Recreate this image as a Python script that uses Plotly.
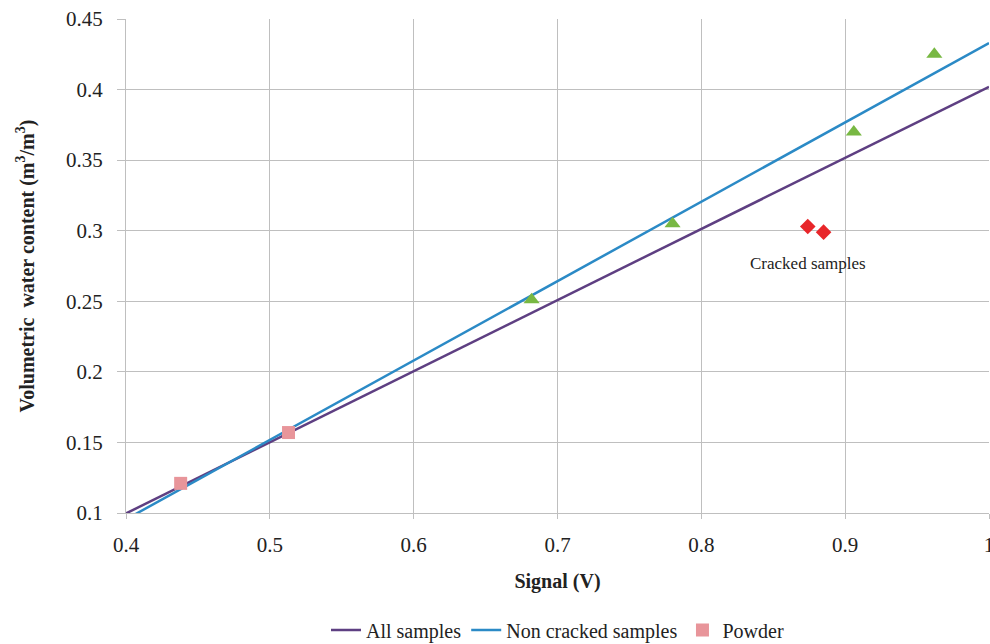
import plotly.graph_objects as go

# Data
all_x = [0.4, 1.0]
all_y = [0.0997, 0.402]
noncr_x = [0.4, 1.0]
noncr_y = [0.0955, 0.433]
powder_x = [0.438, 0.513]
powder_y = [0.121, 0.157]
noncracked_pts_x = [0.682, 0.780, 0.906, 0.962]
noncracked_pts_y = [0.251, 0.305, 0.370, 0.425]
cracked_x = [0.874, 0.885]
cracked_y = [0.303, 0.299]

x_ticks = [0.4, 0.5, 0.6, 0.7, 0.8, 0.9, 1.0]
x_labels = ["0.4", "0.5", "0.6", "0.7", "0.8", "0.9", "1"]
y_ticks = [0.1, 0.15, 0.2, 0.25, 0.3, 0.35, 0.4, 0.45]
y_labels = ["0.1", "0.15", "0.2", "0.25", "0.3", "0.35", "0.4", "0.45"]

FONT = "Times New Roman, Liberation Serif, serif"
GRID = "#BFBFBF"

fig = go.Figure()
fig.add_trace(go.Scatter(x=all_x, y=all_y, mode="lines", name="All samples",
                         line=dict(color="#5E3F82", width=2.5)))
fig.add_trace(go.Scatter(x=noncr_x, y=noncr_y, mode="lines", name="Non cracked samples",
                         line=dict(color="#2B8AC6", width=2.5)))
fig.add_trace(go.Scatter(x=powder_x, y=powder_y, mode="markers", name="Powder",
                         marker=dict(symbol="square", size=13, color="#E8959A")))
fig.add_trace(go.Scatter(x=noncracked_pts_x, y=noncracked_pts_y, mode="markers",
                         showlegend=False,
                         marker=dict(symbol="triangle-up", size=14, color="#78B843")))
fig.add_trace(go.Scatter(x=cracked_x, y=cracked_y, mode="markers", showlegend=False,
                         marker=dict(symbol="diamond", size=12, color="#E8262A")))

fig.add_annotation(x=0.874, y=0.2765, text="Cracked samples", showarrow=False,
                   font=dict(family=FONT, size=17, color="#222222"))

fig.update_layout(
    width=990, height=644,
    margin=dict(l=126, r=1, t=19, b=131, autoexpand=False),
    paper_bgcolor="white", plot_bgcolor="white",
    font=dict(family=FONT, color="#222222"),
    legend=dict(orientation="h", x=0.5, xanchor="center", y=-0.237, yanchor="middle",
                font=dict(family=FONT, size=20), itemwidth=30),
    xaxis=dict(range=[0.4, 1.0], tickvals=x_ticks, ticktext=x_labels,
               automargin=False,
               showgrid=True, gridcolor=GRID,
               gridwidth=1, zeroline=False, showline=True, linecolor=GRID,
               ticks="outside", ticklen=5, tickcolor=GRID, ticklabelstandoff=8,
               ticklabeloverflow="allow",
               tickfont=dict(family=FONT, size=21),
               title=dict(text="<b>Signal (V)</b>", font=dict(family=FONT, size=20),
                          standoff=17)),
    yaxis=dict(range=[0.1, 0.45], tickvals=y_ticks, ticktext=y_labels,
               automargin=False,
               showgrid=True, gridcolor=GRID,
               gridwidth=1, zeroline=False, showline=True, linecolor=GRID,
               ticks="outside", ticklen=8, tickcolor=GRID, ticklabelstandoff=10,
               tickfont=dict(family=FONT, size=21),
               title=dict(text="<b>Volumetric  water content (m<sup>3</sup>/m<sup>3</sup>)</b>",
                          font=dict(family=FONT, size=20), standoff=26)),
)

fig.write_html("out.html")
